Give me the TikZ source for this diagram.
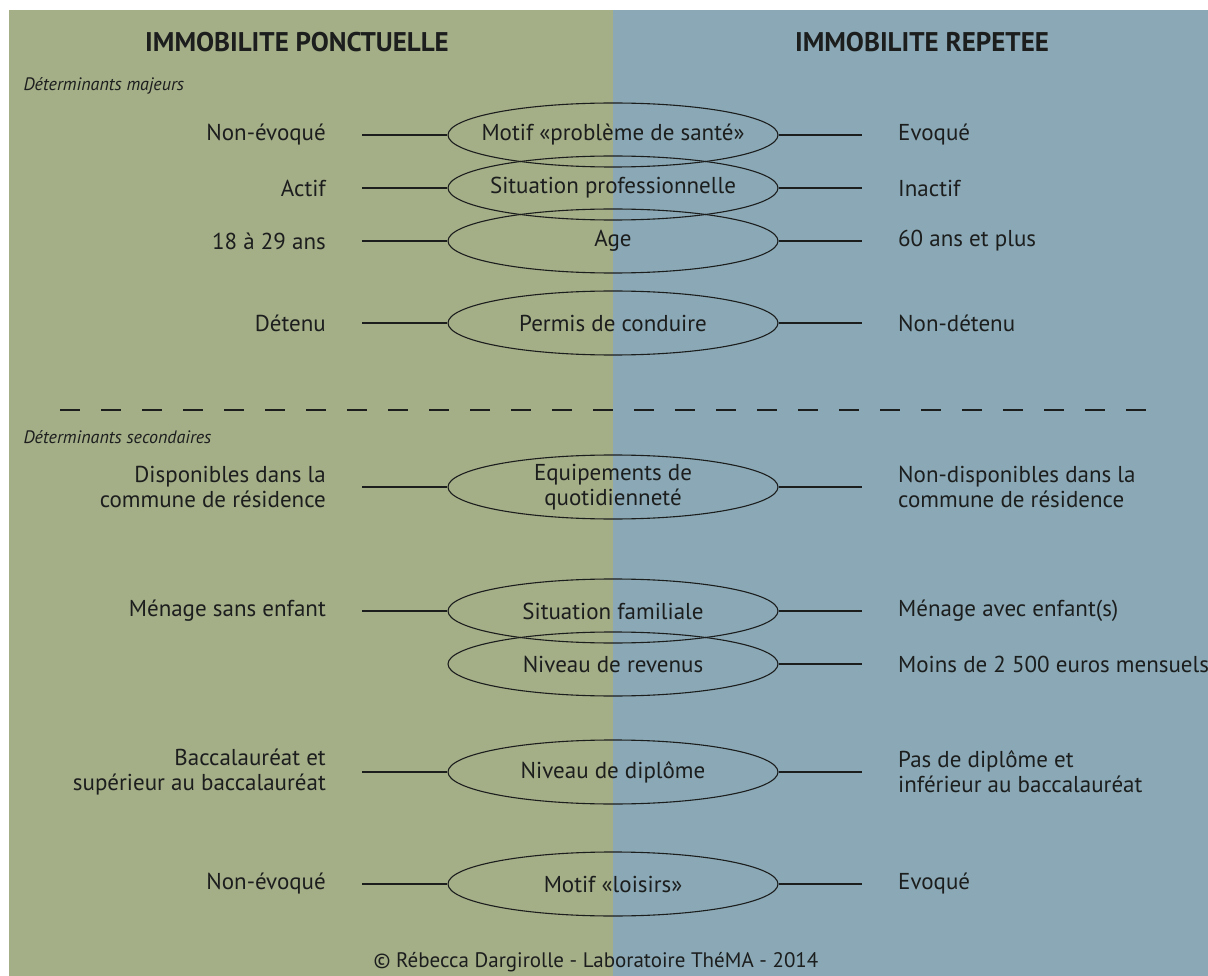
\documentclass[tikz,border=0pt]{standalone}
\usepackage{fontspec}
\setmainfont{PT Sans}
\usetikzlibrary{positioning,shapes.geometric}

\definecolor{vertfond}{RGB}{164,174,135}
\definecolor{bleufond}{RGB}{138,168,181}
\definecolor{encre}{RGB}{28,30,30}

\begin{document}
\begin{tikzpicture}[
    x=1pt, y=-1pt,
    font=\fontsize{23}{25}\selectfont,
    text=encre,
    oval/.style={
        draw=encre,
        ellipse,
        line width=1.1pt,
        minimum width=330pt,
        minimum height=64pt,
        inner sep=0pt
    },
    gauche/.style={
        anchor=east,
        align=right,
        inner xsep=36pt,
        inner ysep=0pt
    },
    droite/.style={
        anchor=west,
        align=left,
        inner xsep=36pt,
        inner ysep=0pt
    },
    titre/.style={font=\fontsize{27}{30}\selectfont\bfseries},
    rubrique/.style={font=\fontsize{18}{20}\selectfont\itshape, anchor=west},
    trait/.style={draw=encre, line width=1.1pt}
]

% Fond
\useasboundingbox (0,0) rectangle (1208,976);
\fill[vertfond] (9,10) rectangle (613,976);
\fill[bleufond] (613,10) rectangle (1208,976);

% Titres
\node[titre] (ponctuelle) at (297,42) {IMMOBILITE PONCTUELLE};
\node[titre] (repetee) at (922,42) {IMMOBILITE REPETEE};
\node[rubrique] (majeurs) at (20,86) {Déterminants majeurs};

% Determinants majeurs
\node[oval, label={center:Motif «problème de santé»}] (sante) at (613,135) {};
\node[gauche] (sante-g) at (362,135) {Non-évoqué};
\node[droite] (sante-d) at (862,135) {Evoqué};

\node[oval, label={center:Situation professionnelle}] (pro) at (613,188) {};
\node[gauche] (pro-g) at (362,188) {Actif};
\node[droite] (pro-d) at (862,188) {Inactif};

\node[oval, label={center:Age}] (age) at (613,241) {};
\node[gauche] (age-g) at (362,241) {18 à 29 ans};
\node[droite] (age-d) at (862,241) {60 ans et plus};

\node[oval, label={center:Permis de conduire}] (permis) at (613,323) {};
\node[gauche] (permis-g) at (362,323) {Détenu};
\node[droite] (permis-d) at (862,323) {Non-détenu};

% Separation
\coordinate (sep-g) at (60,410);
\coordinate (sep-d) at (1160,410);
\draw[trait, dash pattern=on 20pt off 21pt] (sep-g) -- (sep-d);
\node[rubrique] (secondaires) at (20,437) {Déterminants secondaires};

% Determinants secondaires
\node[oval, label={[align=center]center:Equipements de\\quotidienneté}] (equip) at (613,487) {};
\node[gauche] (equip-g) at (362,487) {Disponibles dans la\\commune de résidence};
\node[droite] (equip-d) at (862,487) {Non-disponibles dans la\\commune de résidence};

\node[oval, label={center:Situation familiale}] (famille) at (613,611) {};
\node[gauche] (famille-g) at (362,611) {Ménage sans enfant};
\node[droite] (famille-d) at (862,611) {Ménage avec enfant(s)};

\node[oval, label={center:Niveau de revenus}] (revenus) at (613,664) {};
\node[droite] (revenus-d) at (862,664) {Moins de 2 500 euros mensuels};

\node[oval, label={center:Niveau de diplôme}] (diplome) at (613,772) {};
\node[gauche] (diplome-g) at (362,772) {Baccalauréat et\\supérieur au baccalauréat};
\node[droite] (diplome-d) at (862,772) {Pas de diplôme et\\inférieur au baccalauréat};

\node[oval, label={center:Motif «loisirs»}] (loisirs) at (613,884) {};
\node[gauche] (loisirs-g) at (362,884) {Non-évoqué};
\node[droite] (loisirs-d) at (862,884) {Evoqué};

% Traits
\draw[trait] (sante-g.east) -- (sante.west);
\draw[trait] (sante.east) -- (sante-d.west);
\draw[trait] (pro-g.east) -- (pro.west);
\draw[trait] (pro.east) -- (pro-d.west);
\draw[trait] (age-g.east) -- (age.west);
\draw[trait] (age.east) -- (age-d.west);
\draw[trait] (permis-g.east) -- (permis.west);
\draw[trait] (permis.east) -- (permis-d.west);
\draw[trait] (equip-g.east) -- (equip.west);
\draw[trait] (equip.east) -- (equip-d.west);
\draw[trait] (famille-g.east) -- (famille.west);
\draw[trait] (famille.east) -- (famille-d.west);
\draw[trait] (revenus.east) -- (revenus-d.west);
\draw[trait] (diplome-g.east) -- (diplome.west);
\draw[trait] (diplome.east) -- (diplome-d.west);
\draw[trait] (loisirs-g.east) -- (loisirs.west);
\draw[trait] (loisirs.east) -- (loisirs-d.west);

% Source
\node[font=\fontsize{21}{24}\selectfont] (source) at (596,962) {© Rébecca Dargirolle - Laboratoire ThéMA - 2014};

\end{tikzpicture}
\end{document}
